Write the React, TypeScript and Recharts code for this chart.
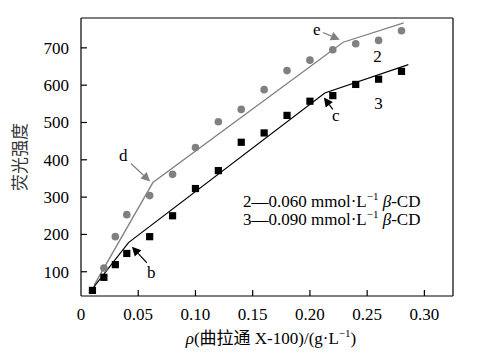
import { ComposedChart, Line, Scatter, XAxis, YAxis, ReferenceLine, ReferenceDot } from 'recharts'

const FONT = '"Liberation Serif", "Times New Roman", "Noto Sans CJK SC", serif'
const GRAY = '#808080'

const xDomain = [0, 0.325]
const yDomain = [35, 780]
const xTicks = [0, 0.05, 0.1, 0.15, 0.2, 0.25, 0.3]
const yTicks = [100, 200, 300, 400, 500, 600, 700]

// curve 2: 0.060 mmol/L beta-CD
const conc2 = [0.02, 0.03, 0.04, 0.06, 0.08, 0.1, 0.12, 0.14, 0.16, 0.18, 0.2, 0.22, 0.24, 0.26, 0.28]
const fluo2 = [110, 194, 253, 304, 361, 433, 502, 535, 588, 639, 667, 695, 711, 720, 746]
// curve 3: 0.090 mmol/L beta-CD
const conc3 = [0.01, 0.02, 0.03, 0.04, 0.06, 0.08, 0.1, 0.12, 0.14, 0.16, 0.18, 0.2, 0.22, 0.24, 0.26, 0.28]
const fluo3 = [50, 85, 119, 149, 194, 250, 323, 371, 447, 472, 519, 557, 572, 602, 616, 637]

// piecewise fitted lines
const fit2X = [0.0116, 0.0628, 0.229, 0.282]
const fit2Y = [65, 339, 715, 767]
const fit3X = [0.007, 0.0415, 0.213, 0.286]
const fit3Y = [43, 178, 579, 655]

// annotation arrows (tail -> tip) and their letters
const arrowNames = ['d', 'e', 'b', 'c']
const arrowColors = [GRAY, GRAY, '#000', '#000']
const arrowFrom = [[0.0436, 390], [0.2113, 741], [0.0576, 124], [0.22, 535]]
const arrowTo = [[0.0604, 342], [0.2261, 722], [0.0445, 167], [0.2122, 567]]
const arrowText = [[0.037, 411], [0.206, 749], [0.0613, 98], [0.2226, 518]]

const seriesNames = ['2', '3']
const seriesTextPos = [[0.259, 677], [0.26, 551]]

const zip = (xs: number[], ys: number[]) => xs.map((x, i) => ({ x, y: ys[i] }))
const pts2 = zip(conc2, fluo2)
const pts3 = zip(conc3, fluo3)
const line2 = zip(fit2X, fit2Y)
const line3 = zip(fit3X, fit3Y)

const XTick = (props: any) => {
  const { x, y, payload } = props
  const axisY = y - 12
  const v = payload.value as number
  return (
    <g>
      {v > 0 && <line x1={x} x2={x} y1={axisY} y2={axisY - 6} stroke="#000" strokeWidth={1.2} />}
      <text x={x} y={y} dy="0.71em" textAnchor="middle" fontFamily={FONT} fontSize={17} fill="#000">
        {v === 0 ? '0' : v.toFixed(2)}
      </text>
    </g>
  )
}

const YTick = (props: any) => {
  const { x, y, payload } = props
  const axisX = x + 12
  return (
    <g>
      <line x1={axisX} x2={axisX + 6} y1={y} y2={y} stroke="#000" strokeWidth={1.2} />
      <text x={x} y={y} dy="0.35em" textAnchor="end" fontFamily={FONT} fontSize={17} fill="#000">
        {payload.value}
      </text>
    </g>
  )
}

const Circle = (p: any) => <circle cx={p.cx} cy={p.cy} r={3.8} fill={GRAY} />
const Square = (p: any) => <rect x={p.cx - 3.6} y={p.cy - 3.6} width={7.2} height={7.2} fill="#000" />

const frameLine = (p: any) => <line x1={p.x1} y1={p.y1} x2={p.x2} y2={p.y2} stroke="#000" strokeWidth={1.2} />

const arrowShape = (color: string) => (p: any) => {
  const { x1, y1, x2, y2 } = p
  const dx = x2 - x1
  const dy = y2 - y1
  const len = Math.sqrt(dx * dx + dy * dy)
  const ux = dx / len
  const uy = dy / len
  const hl = 9
  const hw = 4.5
  const bx = x2 - ux * hl
  const by = y2 - uy * hl
  return (
    <g>
      <line x1={x1} y1={y1} x2={bx} y2={by} stroke={color} strokeWidth={1.2} />
      <polygon
        points={`${x2},${y2} ${bx - uy * hw},${by + ux * hw} ${bx + uy * hw},${by - ux * hw}`}
        fill={color}
      />
    </g>
  )
}

const letter = (t: string) => (p: any) => (
  <text x={p.cx} y={p.cy} dy="0.32em" textAnchor="middle" fontFamily={FONT} fontSize={17} fill="#000">
    {t}
  </text>
)

export default function App() {
  return (
    <div style={{ position: 'relative', width: 478, height: 347 }}>
      <ComposedChart width={478} height={347} margin={{ top: 10, right: 33, bottom: 0, left: 0 }}>
        <XAxis
          dataKey="x"
          type="number"
          domain={xDomain}
          ticks={xTicks}
          height={59}
          tickSize={0}
          tickMargin={12}
          tick={<XTick />}
          axisLine={{ stroke: '#000', strokeWidth: 1.2 }}
          allowDataOverflow
        />
        <YAxis
          dataKey="y"
          type="number"
          domain={yDomain}
          ticks={yTicks}
          width={73}
          tickSize={0}
          tickMargin={12}
          tick={<YTick />}
          axisLine={{ stroke: '#000', strokeWidth: 1.2 }}
          allowDataOverflow
        />

        {/* frame: top and right edges */}
        <ReferenceLine
          segment={[{ x: xDomain[0], y: yDomain[1] }, { x: xDomain[1], y: yDomain[1] }]}
          shape={frameLine}
          ifOverflow="visible"
        />
        <ReferenceLine
          segment={[{ x: xDomain[1], y: yDomain[0] }, { x: xDomain[1], y: yDomain[1] }]}
          shape={frameLine}
          ifOverflow="visible"
        />

        <Line data={line2} dataKey="y" stroke={GRAY} strokeWidth={1.3} dot={false} isAnimationActive={false} />
        <Line data={line3} dataKey="y" stroke="#000" strokeWidth={1.2} dot={false} isAnimationActive={false} />
        <Scatter data={pts2} dataKey="y" shape={Circle} isAnimationActive={false} />
        <Scatter data={pts3} dataKey="y" shape={Square} isAnimationActive={false} />

        {arrowNames.map((n, i) => (
          <ReferenceLine
            key={'a' + n}
            segment={[
              { x: arrowFrom[i][0], y: arrowFrom[i][1] },
              { x: arrowTo[i][0], y: arrowTo[i][1] },
            ]}
            shape={arrowShape(arrowColors[i])}
          />
        ))}
        {arrowNames.map((n, i) => (
          <ReferenceDot key={'t' + n} x={arrowText[i][0]} y={arrowText[i][1]} r={0} shape={letter(n)} />
        ))}
        {seriesNames.map((n, i) => (
          <ReferenceDot key={'s' + n} x={seriesTextPos[i][0]} y={seriesTextPos[i][1]} r={0} shape={letter(n)} />
        ))}
      </ComposedChart>

      <svg width={478} height={347} style={{ position: 'absolute', left: 0, top: 0, pointerEvents: 'none' }}>
        <text
          x={12}
          y={149}
          transform="rotate(-90 12 149)"
          textAnchor="middle"
          dy="0.35em"
          fontFamily={FONT}
          fontSize={17}
          fill="#333"
        >
          荧光强度
        </text>
        <text x={263} y={336} textAnchor="middle" fontFamily={FONT} fontSize={17} fill="#000">
          <tspan fontStyle="italic">ρ</tspan>
          <tspan>(曲拉通 X-100)/(g·L</tspan>
          <tspan fontSize={11} dy={-7}>−1</tspan>
          <tspan dy={7}>)</tspan>
        </text>
        <text x={235} y={199} fontFamily={FONT} fontSize={17} fill="#000">
          <tspan>2—0.060 mmol·L</tspan>
          <tspan fontSize={11} dy={-7}>−1</tspan>
          <tspan dy={7}> </tspan>
          <tspan fontStyle="italic">β</tspan>
          <tspan>-CD</tspan>
        </text>
        <text x={235} y={216.5} fontFamily={FONT} fontSize={17} fill="#000">
          <tspan>3—0.090 mmol·L</tspan>
          <tspan fontSize={11} dy={-7}>−1</tspan>
          <tspan dy={7}> </tspan>
          <tspan fontStyle="italic">β</tspan>
          <tspan>-CD</tspan>
        </text>
      </svg>
    </div>
  )
}
